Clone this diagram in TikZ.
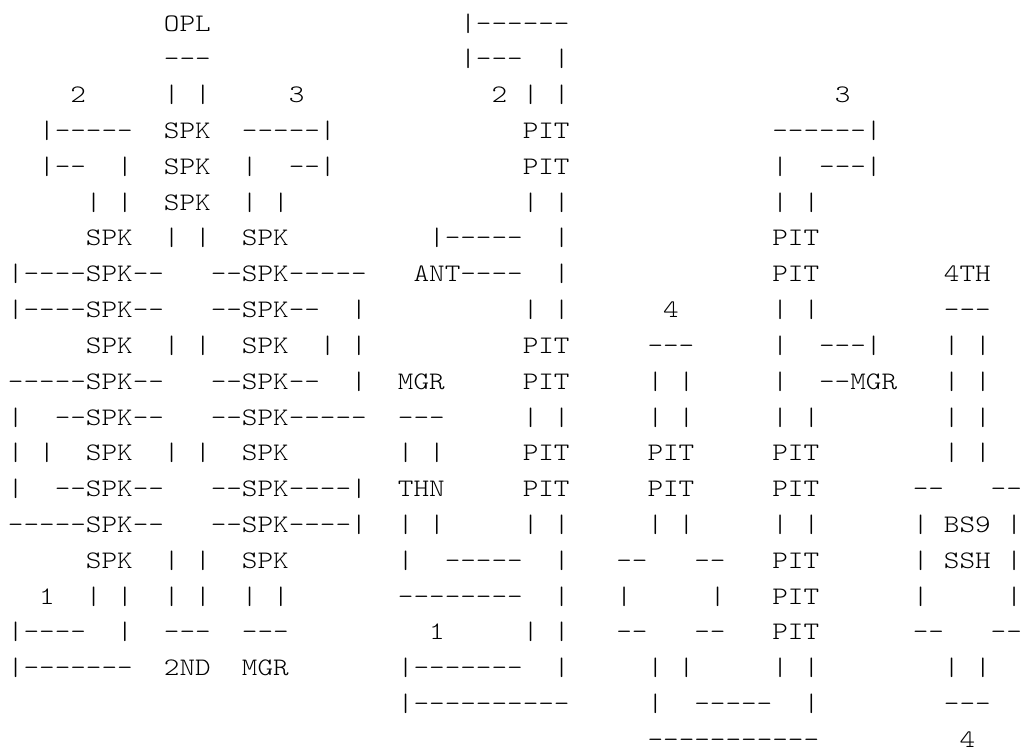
\documentclass[tikz,border=0pt]{standalone}
\usepackage{fontspec}
\newfontfamily\asciifont{lmmonolt10-regular.otf}[FakeStretch=1.1791]
\newcommand\G[1]{\hspace*{#1\fontcharwd\font`\M}}
\begin{document}
\begin{tikzpicture}[x=0.5pt,y=-0.5pt,
  asciiline/.style={anchor=base west, inner sep=0pt, outer sep=0pt,
    font=\asciifont\fontsize{12.6pt}{12.6pt}\selectfont, text=black}]
\fill[white] (0,0) rectangle (1024,751);
\useasboundingbox (0,0) rectangle (1024,751);
\node[asciiline] (L1)  at (8,31.0)  {\G{10}OPL\G{16}|------};
\node[asciiline] (L2)  at (8,66.8)  {\G{10}---\G{16}|---\G{2}|};
\node[asciiline] (L3)  at (8,102.6) {\G{4}2\G{5}|\G{1}|\G{5}3\G{12}2\G{1}|\G{1}|\G{17}3};
\node[asciiline] (L4)  at (8,138.5) {\G{2}|-----\G{2}SPK\G{2}-----|\G{12}PIT\G{13}------|};
\node[asciiline] (L5)  at (8,174.3) {\G{2}|--\G{2}|\G{2}SPK\G{2}|\G{2}--|\G{12}PIT\G{13}|\G{2}---|};
\node[asciiline] (L6)  at (8,210.1) {\G{5}|\G{1}|\G{2}SPK\G{2}|\G{1}|\G{15}|\G{1}|\G{13}|\G{1}|};
\node[asciiline] (L7)  at (8,245.9) {\G{5}SPK\G{2}|\G{1}|\G{2}SPK\G{9}|-----\G{2}|\G{13}PIT};
\node[asciiline] (L8)  at (8,281.7) {|----SPK--\G{3}--SPK-----\G{3}ANT----\G{2}|\G{13}PIT\G{8}4TH};
\node[asciiline] (L9)  at (8,317.6) {|----SPK--\G{3}--SPK--\G{2}|\G{10}|\G{1}|\G{6}4\G{6}|\G{1}|\G{8}---};
\node[asciiline] (L10) at (8,353.4) {\G{5}SPK\G{2}|\G{1}|\G{2}SPK\G{2}|\G{1}|\G{10}PIT\G{5}---\G{5}|\G{2}---|\G{4}|\G{1}|};
\node[asciiline] (L11) at (8,389.2) {-----SPK--\G{3}--SPK--\G{2}|\G{2}MGR\G{5}PIT\G{5}|\G{1}|\G{5}|\G{2}--MGR\G{3}|\G{1}|};
\node[asciiline] (L12) at (8,425.0) {|\G{2}--SPK--\G{3}--SPK-----\G{2}---\G{5}|\G{1}|\G{5}|\G{1}|\G{5}|\G{1}|\G{8}|\G{1}|};
\node[asciiline] (L13) at (8,460.8) {|\G{1}|\G{2}SPK\G{2}|\G{1}|\G{2}SPK\G{7}|\G{1}|\G{5}PIT\G{5}PIT\G{5}PIT\G{8}|\G{1}|};
\node[asciiline] (L14) at (8,496.7) {|\G{2}--SPK--\G{3}--SPK----|\G{2}THN\G{5}PIT\G{5}PIT\G{5}PIT\G{6}--\G{3}--};
\node[asciiline] (L15) at (8,532.5) {-----SPK--\G{3}--SPK----|\G{2}|\G{1}|\G{5}|\G{1}|\G{5}|\G{1}|\G{5}|\G{1}|\G{6}|\G{1}BS9\G{1}|};
\node[asciiline] (L16) at (8,568.3) {\G{5}SPK\G{2}|\G{1}|\G{2}SPK\G{7}|\G{2}-----\G{2}|\G{3}--\G{3}--\G{3}PIT\G{6}|\G{1}SSH\G{1}|};
\node[asciiline] (L17) at (8,604.1) {\G{2}1\G{2}|\G{1}|\G{2}|\G{1}|\G{2}|\G{1}|\G{7}--------\G{2}|\G{3}|\G{5}|\G{3}PIT\G{6}|\G{5}|};
\node[asciiline] (L18) at (8,639.9) {|----\G{2}|\G{2}---\G{2}---\G{9}1\G{5}|\G{1}|\G{3}--\G{3}--\G{3}PIT\G{6}--\G{3}--};
\node[asciiline] (L19) at (8,675.8) {|-------\G{2}2ND\G{2}MGR\G{7}|-------\G{2}|\G{5}|\G{1}|\G{5}|\G{1}|\G{8}|\G{1}|};
\node[asciiline] (L20) at (8,711.6) {\G{25}|----------\G{5}|\G{2}-----\G{2}|\G{8}---};
\node[asciiline] (L21) at (8,747.4) {\G{41}-----------\G{9}4};
\end{tikzpicture}
\end{document}
